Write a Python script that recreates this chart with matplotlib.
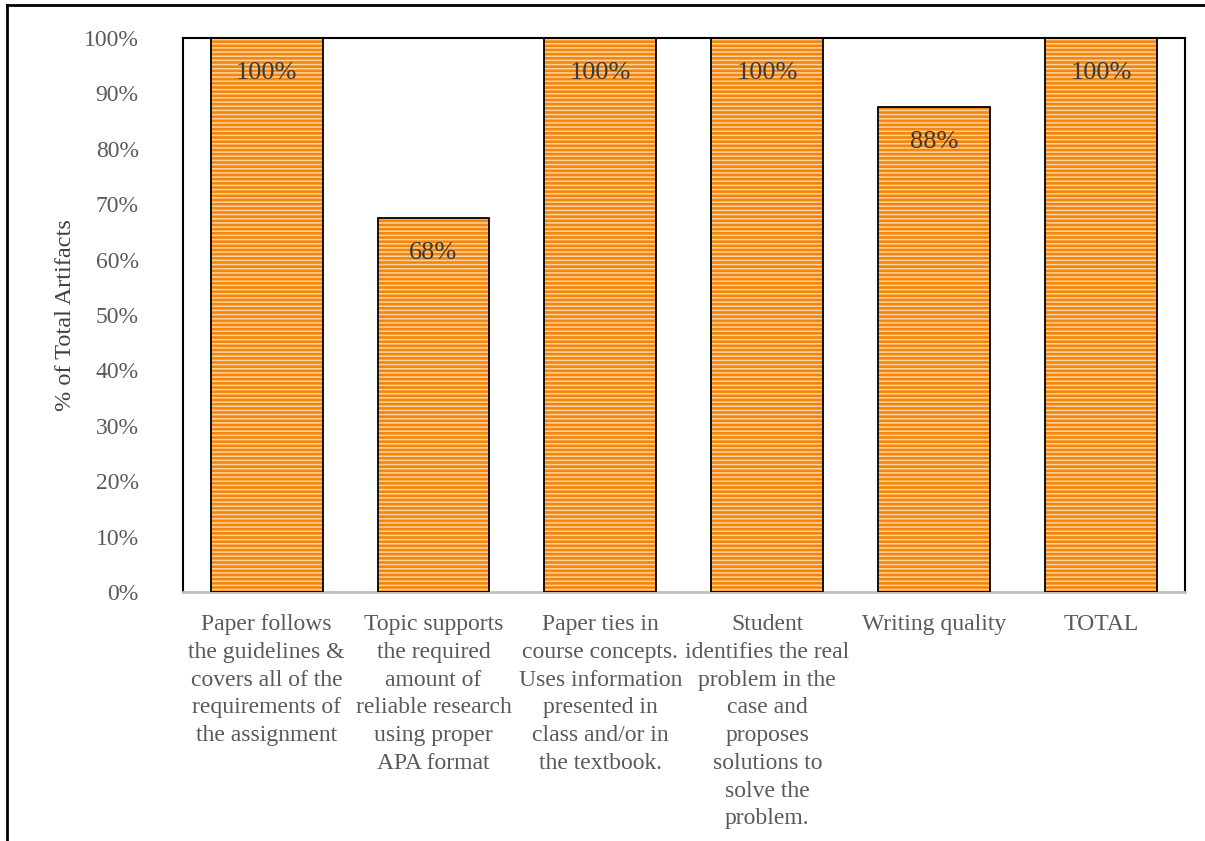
import matplotlib.pyplot as plt
from matplotlib.lines import Line2D
import numpy as np

categories = [
    "Paper follows\nthe guidelines &\ncovers all of the\nrequirements of\nthe assignment",
    "Topic supports\nthe required\namount of\nreliable research\nusing proper\nAPA format",
    "Paper ties in\ncourse concepts.\nUses information\npresented in\nclass and/or in\nthe textbook.",
    "Student\nidentifies the real\nproblem in the\ncase and\nproposes\nsolutions to\nsolve the\nproblem.",
    "Writing quality",
    "TOTAL",
]
values = [100, 67.5, 100, 100, 87.5, 100]
yticks = [0, 10, 20, 30, 40, 50, 60, 70, 80, 90, 100]

plt.rcParams['font.family'] = ['Liberation Serif', 'DejaVu Serif']
plt.rcParams['hatch.linewidth'] = 1.1

fig = plt.figure(figsize=(12.05, 8.41), dpi=100)
ax = fig.add_axes([0.152, 0.296, 0.831, 0.659])

x = np.arange(len(categories))
# orange fill with light horizontal stripes, then black outline on top
ax.bar(x, values, width=0.67, color='#F5850A', edgecolor='#FBD3A0',
       hatch='----', linewidth=0, zorder=2)
ax.bar(x, values, width=0.67, color='none', edgecolor='black',
       linewidth=1.3, zorder=3)

for xi, v in zip(x, values):
    ax.text(xi, v - 6.3, "{:.0f}%".format(v), ha='center', va='center',
            fontsize=19, color='#3A3A3A', zorder=4)

ax.set_xlim(-0.5, len(categories) - 0.5)
ax.set_ylim(0, 100)
ax.set_yticks(yticks)
ax.set_yticklabels(["{}%".format(t) for t in yticks])
ax.set_xticks(x)
ax.set_xticklabels(categories, fontsize=17, color='#595959', linespacing=1.42)
ax.tick_params(axis='y', length=0, pad=32, labelsize=17, labelcolor='#595959')
ax.tick_params(axis='x', length=0, pad=16)
ax.set_ylabel("% of Total Artifacts", fontsize=17.5, color='#404040', labelpad=6)

for side in ['top', 'left', 'right']:
    ax.spines[side].set_color('black')
    ax.spines[side].set_linewidth(1.5)
ax.spines['bottom'].set_color('#BFBFBF')
ax.spines['bottom'].set_linewidth(2)

# outer frame lines of the figure (left and top only visible)
fig.add_artist(Line2D([7 / 1205, 7 / 1205], [0, 1 - 5 / 841], color='black', lw=2,
                      transform=fig.transFigure))
fig.add_artist(Line2D([7 / 1205, 1], [1 - 5 / 841, 1 - 5 / 841], color='black', lw=2,
                      transform=fig.transFigure))

fig.savefig("out.png", dpi=100)
